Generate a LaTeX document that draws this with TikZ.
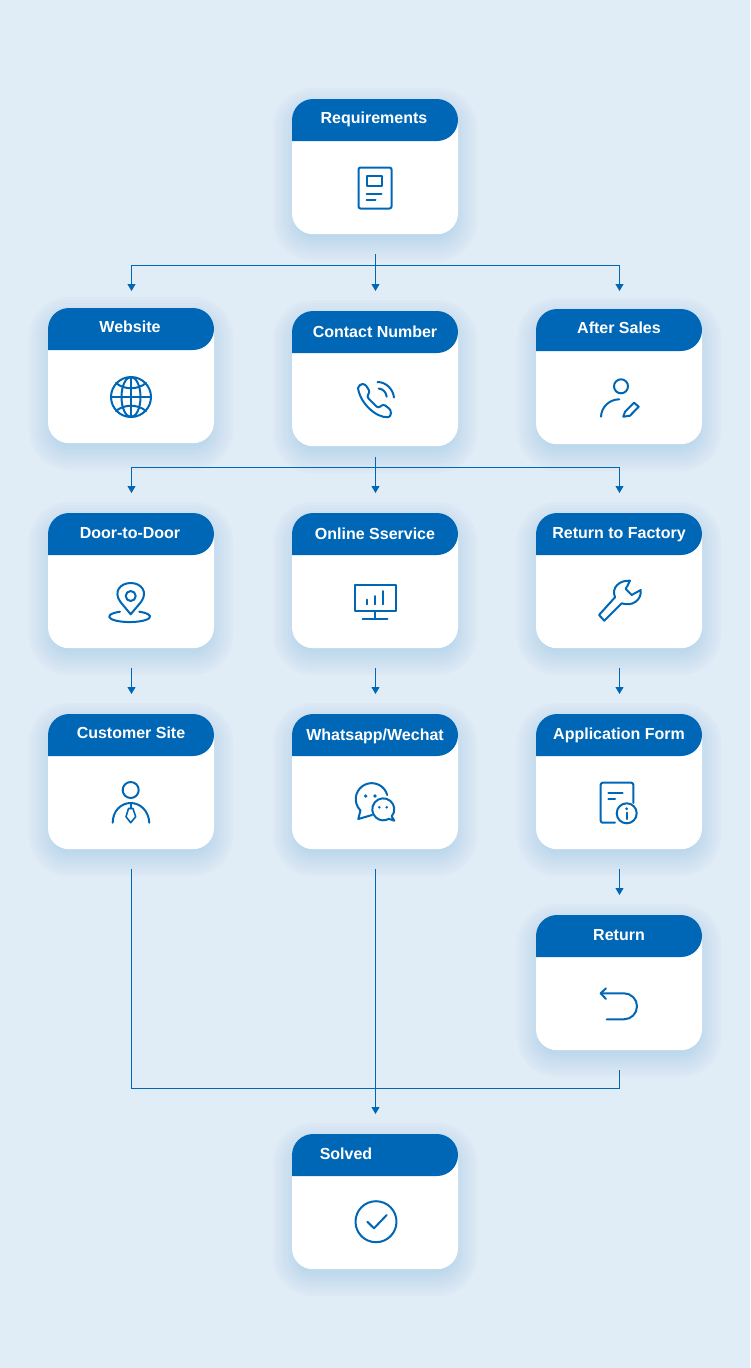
\documentclass[tikz,border=0pt]{standalone}
\usepackage{fontspec}
\setmainfont{Liberation Sans}
\usetikzlibrary{arrows.meta}
\definecolor{pageblue}{HTML}{E0ECF6}
\definecolor{mainblue}{HTML}{0067B6}
\tikzset{
  cardbody/.style={fill=white,rounded corners=21pt,minimum width=166pt,minimum height=135pt,inner sep=0pt,anchor=north},
  cardhead/.style={fill=mainblue,rounded corners=21pt},
  cardshade/.style={fill=mainblue,fill opacity=.014},
  cardtitle/.style={text=white,font=\bfseries\fontsize{16}{16}\selectfont,anchor=base,inner sep=0pt},
  link/.style={draw=mainblue,line width=1pt},
  linkto/.style={link,-{Triangle[width=8pt,length=7pt]}},
  icon/.style={draw=mainblue,line width=2pt,line join=round,line cap=round},
  icondot/.style={fill=mainblue}
}
\newcommand{\card}[3]{
  \foreach \r in {-8,-5,...,19}
    \fill[cardshade,rounded corners=21pt+\r pt] (#2-83-\r,#3+8-\r) rectangle (#2+83+\r,#3+143+\r);
  \node[cardbody] (#1) at (#2,#3) {};
  \fill[cardhead] (#2-83,#3+42) -- (#2-83,#3) -- (#2+83,#3) -- (#2+83,#3+42) -- (#2-83,#3+42);
}
\begin{document}
\begin{tikzpicture}[x=1pt,y=-1pt]
  \useasboundingbox (0,0) rectangle (750,1368);
  \fill[pageblue] (0,0) rectangle (750,1368);

  \card{Req}{375}{99}
  \node[cardtitle] (ReqL) at (374,123) {Requirements};

  \card{Web}{131}{308}
  \node[cardtitle] (WebL) at (130,332) {Website};
  \card{Con}{375}{311}
  \node[cardtitle] (ConL) at (375,337) {Contact Number};
  \card{Sal}{619}{309}
  \node[cardtitle] (SalL) at (619,333) {After Sales};

  \card{Doo}{131}{513}
  \node[cardtitle] (DooL) at (130,538) {Door-to-Door};
  \card{Onl}{375}{513}
  \node[cardtitle] (OnlL) at (375,539) {Online Sservice};
  \card{Fac}{619}{513}
  \node[cardtitle] (FacL) at (619,538) {Return to Factory};

  \card{Cus}{131}{714}
  \node[cardtitle] (CusL) at (131,738) {Customer Site};
  \card{Wha}{375}{714}
  \node[cardtitle] (WhaL) at (375,740) {Whatsapp/Wechat};
  \card{App}{619}{714}
  \node[cardtitle] (AppL) at (619,739) {Application Form};

  \card{Ret}{619}{915}
  \node[cardtitle] (RetL) at (619,940) {Return};

  \card{Sol}{375}{1134}
  \node[cardtitle] (SolL) at (346,1159) {Solved};

  % connectors
  \coordinate (J1) at (375.5,265.5);
  \draw[link,shorten <=20pt] ([xshift=.5pt]Req.south) -- (J1);
  \draw[linkto,shorten >=17pt] (J1) -| ([xshift=.5pt]Web.north);
  \draw[linkto,shorten >=20pt] (J1) -- ([xshift=.5pt]Con.north);
  \draw[linkto,shorten >=18pt] (J1) -| ([xshift=.5pt]Sal.north);

  \coordinate (J2) at (375.5,467.5);
  \draw[link,shorten <=11pt] ([xshift=.5pt]Con.south) -- (J2);
  \draw[linkto,shorten >=20pt] (J2) -| ([xshift=.5pt]Doo.north);
  \draw[linkto,shorten >=20pt] (J2) -- ([xshift=.5pt]Onl.north);
  \draw[linkto,shorten >=20pt] (J2) -| ([xshift=.5pt]Fac.north);

  \draw[linkto,shorten <=20pt,shorten >=20pt] ([xshift=.5pt]Doo.south) -- ([xshift=.5pt]Cus.north);
  \draw[linkto,shorten <=20pt,shorten >=20pt] ([xshift=.5pt]Onl.south) -- ([xshift=.5pt]Wha.north);
  \draw[linkto,shorten <=20pt,shorten >=20pt] ([xshift=.5pt]Fac.south) -- ([xshift=.5pt]App.north);
  \draw[linkto,shorten <=20pt,shorten >=20pt] ([xshift=.5pt]App.south) -- ([xshift=.5pt]Ret.north);

  \coordinate (J3) at (375.5,1088.5);
  \draw[link,shorten <=20pt] ([xshift=.5pt]Cus.south) |- (J3);
  \draw[link,shorten <=20pt] ([xshift=.5pt]Ret.south) |- (J3);
  \draw[linkto,shorten <=20pt,shorten >=20pt] ([xshift=.5pt]Wha.south) -- ([xshift=.5pt]Sol.north);

  % icons
  \draw[icon,rounded corners=2pt] (358.5,167.5) rectangle (391.5,208.5);
  \draw[icon] (366.5,175.5) rectangle (381.5,186);
  \draw[icon] (366.5,193.7) -- (381.5,193.7);
  \draw[icon] (366.5,199.7) -- (375.5,199.7);

  \draw[icon] (131,397) circle[radius=20pt];
  \draw[icon] (131,397) ellipse[x radius=9.5pt,y radius=20pt];
  \draw[icon] (131,377) -- (131,417);
  \draw[icon] (111,397) -- (151,397);
  \draw[icon] (116,383) .. controls (124,390) and (138,390) .. (146,383);
  \draw[icon] (116,411) .. controls (124,404) and (138,404) .. (146,411);

  \draw[icon,rounded corners=2.5pt] (358,388) .. controls (358,386) and (361,384) .. (365,384) -- (370,391.7) -- (366.7,396.7) -- (378.3,408.3) -- (383.3,404) -- (391,410) -- (390.5,417) .. controls (376,418) and (360,403) .. (358,388);
  \draw[icon] (377.5,382) .. controls (386,382) and (393,389) .. (394,397.5);
  \draw[icon] (378.7,388.5) .. controls (383,389) and (386,392) .. (386.7,396.7);

  \draw[icon] (621,386.3) circle[radius=7pt];
  \draw[icon] (619.3,399.3) .. controls (609,399.5) and (601.5,407) .. (601,416.7);
  \draw[icon] (623.3,416.7) -- (625,411.7) -- (634,402.7) -- (638.7,406.7) -- (630,415.7) -- cycle;

  \draw[icon] (130.7,614.3) -- (120.5,602) .. controls (113,592) and (120,583) .. (130.7,583) .. controls (141.4,583) and (148.4,592) .. (141,602) -- cycle;
  \draw[icon] (130.7,596) circle[radius=5pt];
  \draw[icon] (120,611.7) arc[start angle=118,end angle=422,x radius=20.5pt,y radius=5.5pt];

  \draw[icon] (354.5,584.5) rectangle (395.5,611);
  \draw[icon] (375,611) -- (375,619);
  \draw[icon] (362.5,619) -- (387.5,619);
  \draw[icon] (366.7,599.5) -- (366.7,604.3);
  \draw[icon] (375,596) -- (375,604.3);
  \draw[icon] (383,591) -- (383,604.3);

  \draw[icon] (599,615) -- (615,597.3) .. controls (611,587) and (620,580) .. (630,580.7) -- (625.7,589) -- (631.7,595) -- (640.7,590) .. controls (642,600) and (632,607) .. (621.7,603.3) -- (604.3,620.7) -- cycle;

  \draw[icon] (130.7,790) circle[radius=8pt];
  \draw[icon] (112.7,822.7) .. controls (112.7,811) and (121,803) .. (130.7,803) .. controls (140.4,803) and (148.7,811) .. (149.3,822.7);
  \draw[icon,line width=1.6pt] (130.7,803) -- (130.7,808.5);
  \draw[icon,line width=1.6pt] (128.5,808.5) -- (133,808.5) -- (135.7,816.7) -- (130.7,822.7) -- (126,816.7) -- cycle;

  \draw[icon] (387.2,795) arc[start angle=15,end angle=225,radius=16pt] -- (358.3,819) -- (372,815);
  \draw[icon] (391.7,816.4) arc[start angle=-40,end angle=300,radius=11pt] -- (394.3,820.7) -- cycle;
  \fill[icondot] (365.7,796) circle[radius=1.8pt];
  \fill[icondot] (375,796) circle[radius=1.8pt];
  \fill[icondot] (379.3,807.3) circle[radius=1.4pt];
  \fill[icondot] (386.7,807.3) circle[radius=1.4pt];

  \draw[icon,rounded corners=2pt] (615,822.7) -- (600.7,822.7) -- (600.7,782.7) -- (633.3,782.7) -- (633.3,803);
  \draw[icon] (608.3,792.7) -- (622.7,792.7);
  \draw[icon] (608.3,799.3) -- (615,799.3);
  \draw[icon] (626.7,813.3) circle[radius=10pt];
  \fill[icondot] (626.7,808.7) circle[radius=1.5pt];
  \draw[icon] (626.7,812.7) -- (626.7,819);

  \draw[icon] (606,988.3) -- (600.7,993.3) -- (606,999);
  \draw[icon] (600.7,993.3) -- (624,993.3) arc[start angle=90,end angle=-90,radius=13pt] -- (606.7,1019.3);

  \draw[icon] (376,1221.7) circle[radius=20.5pt];
  \draw[icon] (367.3,1221.7) -- (374,1228.3) -- (386.7,1215);
\end{tikzpicture}
\end{document}
